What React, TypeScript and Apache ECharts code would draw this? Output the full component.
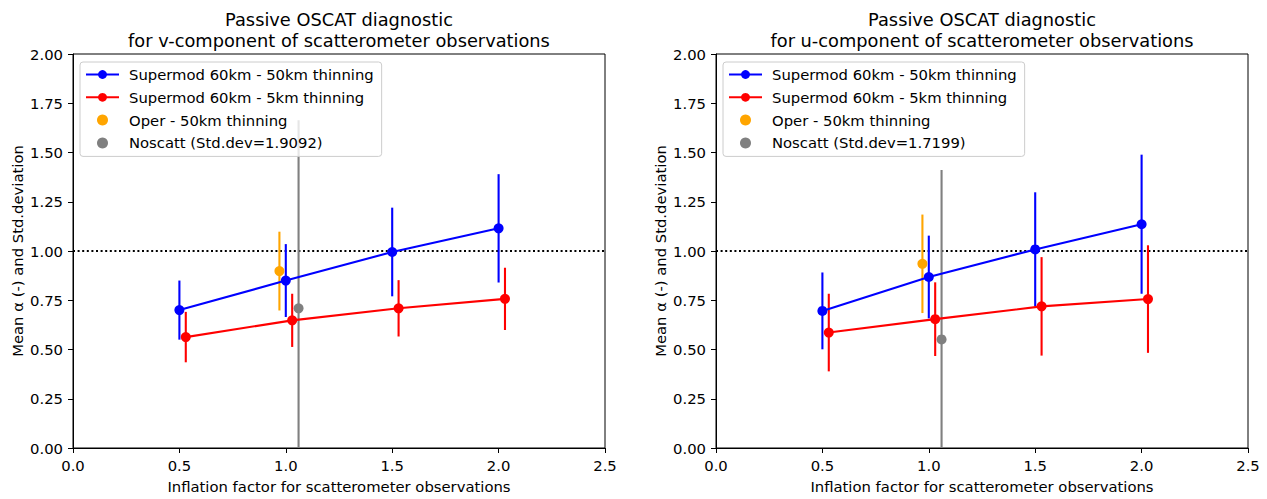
import React, { useEffect, useRef } from "react";
import * as echarts from "echarts";

// ---------- data ----------
const xTickStep = 0.5;
const yTickStep = 0.25;

const supermodX = [0.5, 1.0, 1.5, 2.0];
const supermod5X = [0.53, 1.03, 1.53, 2.03];
const operX = [0.97];
const noscattX = [1.06];

// v-component (left panel)
const vBlue = [0.7, 0.85, 0.995, 1.115];
const vBlueErr = [0.15, 0.185, 0.225, 0.275];
const vRed = [0.563, 0.648, 0.709, 0.757];
const vRedErr = [0.128, 0.135, 0.143, 0.158];
const vOper = [0.898];
const vOperErr = [0.2];
const vNoscatt = [0.709];
const vNoscattErr = [0.9546];

// u-component (right panel)
const uBlue = [0.696, 0.868, 1.008, 1.136];
const uBlueErr = [0.195, 0.21, 0.29, 0.353];
const uRed = [0.586, 0.654, 0.719, 0.756];
const uRedErr = [0.197, 0.187, 0.25, 0.273];
const uOper = [0.935];
const uOperErr = [0.25];
const uNoscatt = [0.551];
const uNoscattErr = [0.86];

const nameBlue = "Supermod 60km - 50km thinning";
const nameRed = "Supermod 60km - 5km thinning";
const nameOper = "Oper - 50km thinning";
const nameNoscattV = "Noscatt (Std.dev=1.9092)";
const nameNoscattU = "Noscatt (Std.dev=1.7199)";

const titleV = "Passive OSCAT diagnostic\nfor v-component of scatterometer observations";
const titleU = "Passive OSCAT diagnostic\nfor u-component of scatterometer observations";
const xName = "Inflation factor for scatterometer observations";
const yName = "Mean α (-) and Std.deviation";

const BLUE = "#0000ff";
const RED = "#ff0000";
const ORANGE = "#ffa500";
const GRAY = "#808080";
const FONT = "DejaVu Sans";
const FS = 14.8;
const TITLE_FS = 17.8;

function pts(xs: number[], vs: number[]) {
  return xs.map((x, i) => [x, vs[i]]);
}
function errs(xs: number[], vs: number[], es: number[]) {
  return xs.map((x, i) => [x, vs[i] - es[i], vs[i] + es[i]]);
}

function errorBarSeries(idx: number, data: number[][], color: string) {
  return {
    type: "custom",
    xAxisIndex: idx,
    yAxisIndex: idx,
    data,
    encode: { x: 0, y: [1, 2] },
    silent: true,
    z: 2,
    renderItem: (params: any, api: any) => {
      const x = api.value(0);
      const lo = api.value(1);
      const hi = api.value(2);
      const a = api.coord([x, hi]);
      const b = api.coord([x, lo]);
      const cs = params.coordSys;
      const top = Math.max(a[1], cs.y);
      const bot = Math.min(b[1], cs.y + cs.height);
      return {
        type: "line",
        shape: { x1: a[0], y1: top, x2: a[0], y2: bot },
        style: { stroke: color, lineWidth: 2.1 },
      };
    },
  };
}

function panelSeries(
  idx: number,
  blue: number[],
  blueErr: number[],
  red: number[],
  redErr: number[],
  oper: number[],
  operErr: number[],
  nos: number[],
  nosErr: number[],
  nosName: string
) {
  return [
    {
      type: "line",
      xAxisIndex: idx,
      yAxisIndex: idx,
      data: [
        [0, 1],
        [2.5, 1],
      ],
      symbol: "none",
      silent: true,
      lineStyle: { color: "#000", width: 2, type: [2, 2.6] },
      z: 1,
    },
    errorBarSeries(idx, errs(supermodX, blue, blueErr), BLUE),
    errorBarSeries(idx, errs(supermod5X, red, redErr), RED),
    errorBarSeries(idx, errs(operX, oper, operErr), ORANGE),
    errorBarSeries(idx, errs(noscattX, nos, nosErr), GRAY),
    {
      name: nameBlue,
      type: "line",
      xAxisIndex: idx,
      yAxisIndex: idx,
      data: pts(supermodX, blue),
      symbol: "circle",
      symbolSize: 10,
      color: BLUE,
      lineStyle: { color: BLUE, width: 2.1 },
      itemStyle: { color: BLUE },
      z: 3,
    },
    {
      name: nameRed,
      type: "line",
      xAxisIndex: idx,
      yAxisIndex: idx,
      data: pts(supermod5X, red),
      symbol: "circle",
      symbolSize: 10,
      color: RED,
      lineStyle: { color: RED, width: 2.1 },
      itemStyle: { color: RED },
      z: 3,
    },
    {
      name: nameOper,
      type: "scatter",
      xAxisIndex: idx,
      yAxisIndex: idx,
      data: pts(operX, oper),
      symbol: "circle",
      symbolSize: 10,
      color: ORANGE,
      itemStyle: { color: ORANGE, opacity: 1 },
      z: 3,
    },
    {
      name: nosName,
      type: "scatter",
      xAxisIndex: idx,
      yAxisIndex: idx,
      data: pts(noscattX, nos),
      symbol: "circle",
      symbolSize: 10,
      color: GRAY,
      itemStyle: { color: GRAY, opacity: 1 },
      z: 3,
    },
  ];
}

function xAxis(gridIndex: number) {
  return {
    type: "value",
    gridIndex,
    min: 0,
    max: 2.5,
    interval: xTickStep,
    name: xName,
    nameLocation: "middle",
    nameGap: 31,
    nameTextStyle: { fontFamily: FONT, fontSize: FS, color: "#000" },
    axisLine: { show: true, lineStyle: { color: "#000", width: 1 } },
    axisTick: { show: true, inside: false, length: 5, lineStyle: { color: "#000" } },
    axisLabel: {
      margin: 10,
      fontFamily: FONT,
      fontSize: FS,
      color: "#000",
      formatter: (v: number) => v.toFixed(1),
    },
    splitLine: { show: false },
  };
}

function yAxis(gridIndex: number) {
  return {
    type: "value",
    gridIndex,
    min: 0,
    max: 2,
    interval: yTickStep,
    name: yName,
    nameLocation: "middle",
    nameGap: 48,
    nameTextStyle: { fontFamily: FONT, fontSize: FS, color: "#000" },
    axisLine: { show: true, lineStyle: { color: "#000", width: 1 } },
    axisTick: { show: true, inside: false, length: 5, lineStyle: { color: "#000" } },
    axisLabel: {
      margin: 10,
      fontFamily: FONT,
      fontSize: FS,
      color: "#000",
      formatter: (v: number) => v.toFixed(2),
    },
    splitLine: { show: false },
  };
}

function legend(left: number, names: string[]) {
  return {
    left,
    top: 62,
    orient: "vertical",
    data: names,
    selectedMode: false,
    itemWidth: 33,
    itemHeight: 11,
    itemGap: 7.8,
    padding: [5, 8, 6, 5],
    borderColor: "#cccccc",
    borderWidth: 1,
    borderRadius: 3,
    backgroundColor: "rgba(255,255,255,0.8)",
    textStyle: { fontFamily: FONT, fontSize: FS, color: "#000", padding: [0, 0, 0, 5] },
  };
}

export default function App() {
  const ref = useRef<HTMLDivElement>(null);
  useEffect(() => {
    if (!ref.current) return;
    const chart = echarts.init(ref.current, undefined, { renderer: "svg" });
    chart.setOption({
      animation: false,
      backgroundColor: "#ffffff",
      title: [
        {
          text: titleV,
          left: 339,
          top: 9,
          padding: 0,
          textAlign: "center",
          textStyle: { fontFamily: FONT, fontSize: TITLE_FS, fontWeight: "normal", color: "#000", lineHeight: 21 },
        },
        {
          text: titleU,
          left: 982,
          top: 9,
          padding: 0,
          textAlign: "center",
          textStyle: { fontFamily: FONT, fontSize: TITLE_FS, fontWeight: "normal", color: "#000", lineHeight: 21 },
        },
      ],
      legend: [
        legend(80, [nameBlue, nameRed, nameOper, nameNoscattV]),
        legend(723, [nameBlue, nameRed, nameOper, nameNoscattU]),
      ],
      grid: [
        { left: 73, right: 662, top: 54, bottom: 47.5, show: true, borderColor: "#000", borderWidth: 1, backgroundColor: "transparent" },
        { left: 716, right: 19, top: 54, bottom: 47.5, show: true, borderColor: "#000", borderWidth: 1, backgroundColor: "transparent" },
      ],
      xAxis: [xAxis(0), xAxis(1)],
      yAxis: [yAxis(0), yAxis(1)],
      series: [
        ...panelSeries(0, vBlue, vBlueErr, vRed, vRedErr, vOper, vOperErr, vNoscatt, vNoscattErr, nameNoscattV),
        ...panelSeries(1, uBlue, uBlueErr, uRed, uRedErr, uOper, uOperErr, uNoscatt, uNoscattErr, nameNoscattU),
      ],
    });
    return () => chart.dispose();
  }, []);
  return (
    <div
      ref={ref}
      style={{ position: "fixed", left: 0, top: 0, width: 1267, height: 499, background: "#fff" }}
    />
  );
}
